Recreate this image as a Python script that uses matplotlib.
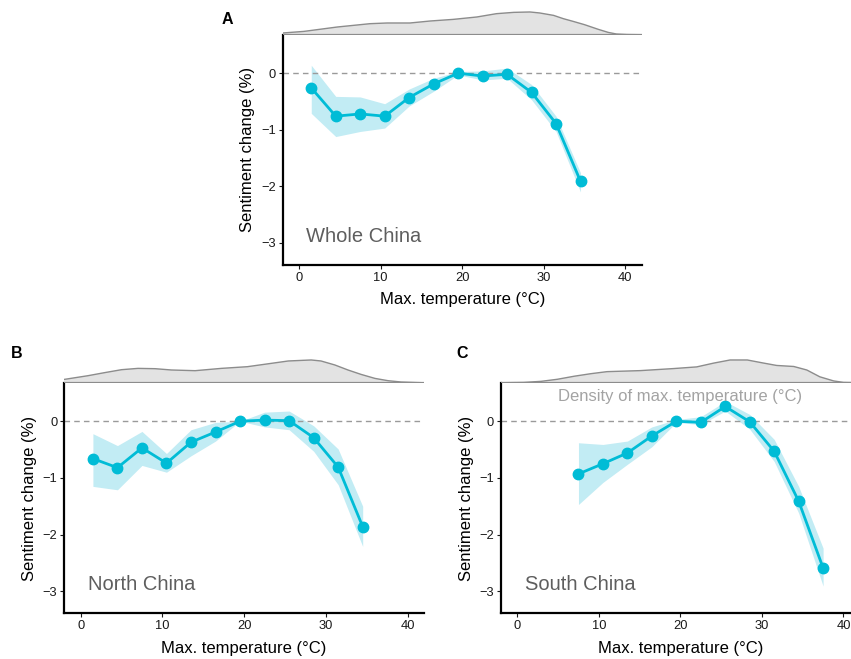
import matplotlib
matplotlib.use("Agg")
import matplotlib.pyplot as plt
import numpy as np

plt.rcParams['font.family'] = ['Liberation Sans', 'DejaVu Sans']

# ---------------- data ----------------
bins_a = [1.5, 4.5, 7.5, 10.5, 13.5, 16.5, 19.5, 22.5, 25.5, 28.5, 31.5, 34.5]
est_a = [-0.26, -0.76, -0.72, -0.76, -0.43, -0.19, 0.0, -0.05, -0.02, -0.34, -0.89, -1.91]
lo_a = [-0.71, -1.12, -1.03, -0.97, -0.58, -0.32, -0.03, -0.12, -0.09, -0.47, -1.03, -2.10]
hi_a = [0.14, -0.41, -0.42, -0.54, -0.28, -0.09, 0.03, 0.04, 0.09, -0.20, -0.76, -1.76]

bins_b = [1.5, 4.5, 7.5, 10.5, 13.5, 16.5, 19.5, 22.5, 25.5, 28.5, 31.5, 34.5]
est_b = [-0.66, -0.82, -0.47, -0.74, -0.37, -0.19, 0.0, 0.02, 0.01, -0.29, -0.81, -1.86]
lo_b = [-1.15, -1.21, -0.78, -0.90, -0.61, -0.35, 0.0, -0.10, -0.15, -0.53, -1.12, -2.21]
hi_b = [-0.22, -0.43, -0.18, -0.57, -0.15, -0.02, 0.0, 0.16, 0.18, -0.08, -0.49, -1.50]

bins_c = [7.5, 10.5, 13.5, 16.5, 19.5, 22.5, 25.5, 28.5, 31.5, 34.5, 37.5]
est_c = [-0.93, -0.75, -0.56, -0.26, 0.0, -0.02, 0.26, -0.01, -0.53, -1.41, -2.59]
lo_c = [-1.47, -1.08, -0.76, -0.45, -0.02, -0.06, 0.18, -0.14, -0.71, -1.62, -2.91]
hi_c = [-0.38, -0.41, -0.35, -0.10, 0.03, 0.08, 0.35, 0.12, -0.32, -1.15, -2.24]

# density of max. temperature (relative heights)
dens_x_a = [-2.0, 0.6, 4.7, 8.7, 10.8, 13.6, 16.1, 18.9, 21.8, 24.2, 26.3, 28.3, 29.5,
            31.2, 32.4, 33.6, 35.0, 36.7, 37.9, 38.9, 40.2, 42.0]
dens_y_a = [1.7, 3.3, 7.7, 11.0, 11.7, 11.7, 13.7, 15.3, 17.7, 21.0, 22.3, 22.7, 21.7,
            19.3, 16.0, 13.3, 10.0, 5.3, 2.3, 0.7, 0.2, 0.0]

dens_x_b = [-2.0, 0.9, 2.9, 5.0, 7.0, 9.1, 11.1, 14.0, 17.2, 20.4, 23.3, 25.4, 28.2, 29.4,
            31.1, 32.7, 34.3, 36.0, 37.6, 39.2, 41.7, 42.0]
dens_y_b = [3.3, 7.0, 10.0, 13.0, 14.3, 14.0, 12.7, 12.0, 14.3, 16.0, 19.3, 21.7, 22.7, 21.7,
            17.7, 12.7, 8.3, 4.3, 2.0, 0.7, 0.0, 0.0]

dens_x_c = [-2.0, 0.8, 2.9, 4.9, 7.0, 9.0, 11.0, 15.1, 19.2, 22.0, 24.1, 26.1, 28.2, 30.2,
            31.8, 33.9, 35.5, 37.1, 38.8, 40.0, 42.0]
dens_y_c = [0.0, 0.3, 1.3, 3.3, 6.3, 8.7, 10.7, 11.7, 13.7, 15.3, 19.0, 22.0, 22.0, 19.0,
            16.7, 15.7, 12.3, 5.7, 1.7, 0.3, 0.0]

regions = ["Whole China", "North China", "South China"]
letters = ["A", "B", "C"]
xticks = [0, 10, 20, 30, 40]
yticks = [0, -1, -2, -3]

# ---------------- style ----------------
LINE = "#00BCD6"
RIBBON = "#C2ECF4"
W, H = 851, 659

fig = plt.figure(figsize=(W / 100, H / 100), dpi=100)


def px_axes(left, top, right, bottom):
    return fig.add_axes([left / W, 1 - bottom / H, (right - left) / W, (bottom - top) / H])


def panel(box, dbox, bins, est, lo, hi, dx, dy, label, letter, letter_pos, dens_label=False):
    ax = px_axes(*box)
    ax.fill_between(bins, lo, hi, color=RIBBON, lw=0, zorder=1)
    ax.axhline(0, color="#9a9a9a", ls=(0, (4, 3)), lw=1.0, zorder=2)
    ax.plot(bins, est, color=LINE, lw=2.0, marker="o", ms=7.5, zorder=3)
    ax.set_xlim(-2, 42)
    ax.set_ylim(-3.39, 0.68)
    ax.set_xticks(xticks)
    ax.set_yticks(yticks)
    for s in ["top", "right"]:
        ax.spines[s].set_visible(False)
    for s in ["left", "bottom"]:
        ax.spines[s].set_linewidth(1.6)
        ax.spines[s].set_color("black")
    ax.tick_params(axis="both", labelsize=9.3, length=3, width=0.8, colors="#1a1a1a", pad=2)
    ax.set_xlabel("Max. temperature (°C)", fontsize=12, labelpad=6)
    ax.set_ylabel("Sentiment change (%)", fontsize=12, labelpad=4)
    ax.text(0.9, -2.88, label, fontsize=14.5, color="#5e5e5e", ha="left", va="center")
    if dens_label:
        ax.text(20, 0.44, "Density of max. temperature (°C)", fontsize=12, color="#a3a3a3",
                ha="center", va="center", zorder=5)

    dax = px_axes(*dbox)
    dax.fill_between(dx, 0, dy, facecolor="#e3e3e3", edgecolor="none", zorder=1)
    dax.plot(dx, dy, color="#8c8c8c", lw=1.0, zorder=2, solid_joinstyle="round")
    dax.axhline(0, color="#8c8c8c", lw=1.6, zorder=3)
    dax.set_xlim(-2, 42)
    dax.set_ylim(0, max(dy) * 1.1)
    dax.axis("off")

    fig.text(letter_pos[0] / W, 1 - letter_pos[1] / H, letter, fontsize=11.5,
             fontweight="bold", ha="center", va="center")
    return ax


panel((282.7, 34.7, 641.7, 265.0), (282.7, 9.7, 641.7, 34.7), bins_a, est_a, lo_a, hi_a,
      dens_x_a, dens_y_a, regions[0], letters[0], (227, 20))
panel((64.3, 382.7, 424.0, 613.3), (64.3, 357.7, 424.0, 382.7), bins_b, est_b, lo_b, hi_b,
      dens_x_b, dens_y_b, regions[1], letters[1], (17, 353))
panel((501.0, 382.7, 859.8, 613.3), (501.0, 357.7, 859.8, 382.7), bins_c, est_c, lo_c, hi_c,
      dens_x_c, dens_y_c, regions[2], letters[2], (462, 353), dens_label=True)

fig.savefig("out.png", dpi=100)
